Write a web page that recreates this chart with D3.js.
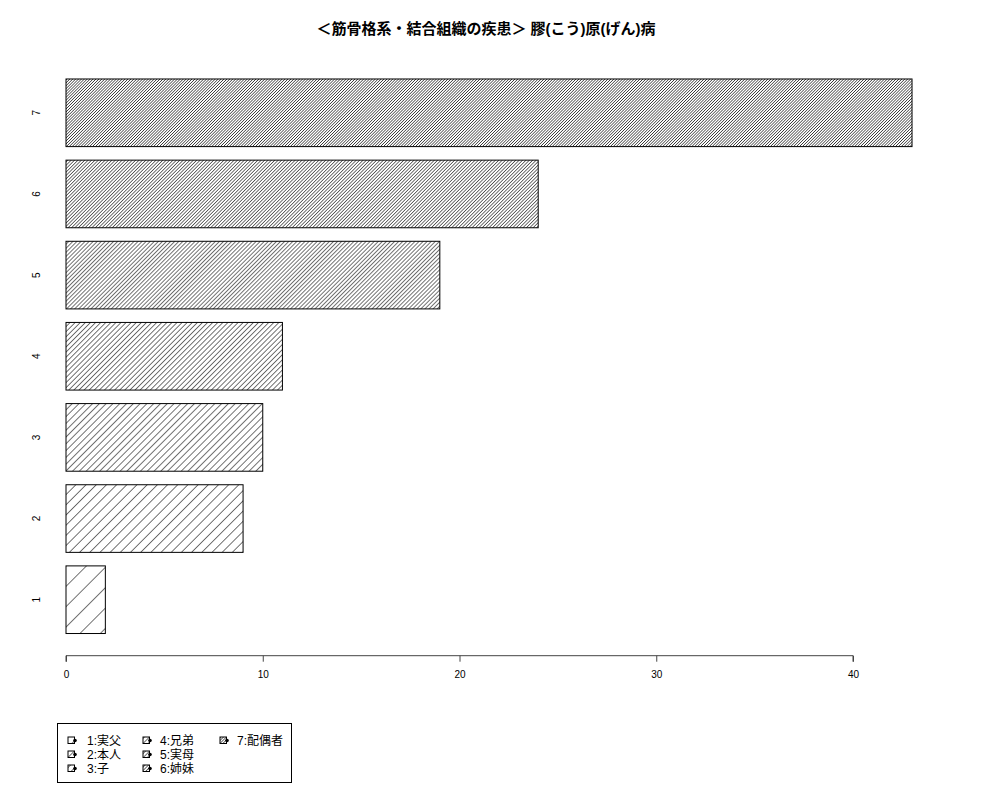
<!DOCTYPE html>
<html><head><meta charset="utf-8">
<script src="https://cdn.jsdelivr.net/npm/d3@7"></script>
<style>body{margin:0;background:#fff}svg{display:block}</style>
</head><body>
<script>
const categories = ["1","2","3","4","5","6","7"];
const values = [2, 9, 10, 11, 19, 24, 43];
const legendLabels = ["1:実父","2:本人","3:子","4:兄弟","5:実母","6:姉妹","7:配偶者"];
const xTicks = [0, 10, 20, 30, 40];
const title = "＜筋骨格系・結合組織の疾患＞ 膠(こう)原(げん)病";

const W = 1000, H = 800;
const font = "'Liberation Sans', Arial, 'Noto Sans CJK JP', sans-serif";
const svg = d3.select("body").append("svg").attr("width", W).attr("height", H)
  .style("font-family", font);
svg.append("rect").attr("width", W).attr("height", H).attr("fill", "#fff");

const x = d3.scaleLinear().domain([0, 40]).range([66, 853]);
const y = d3.scaleLinear().domain([-0.128, 8.728]).range([655.7, 56.8]);

const defs = svg.append("defs");
categories.forEach((c, i) => {
  const sp = 72 / (5 * (i + 1));
  const p = defs.append("pattern").attr("id", "h" + i)
    .attr("patternUnits", "userSpaceOnUse")
    .attr("width", sp).attr("height", 20)
    .attr("patternTransform", "rotate(45)");
  p.append("line").attr("x1", 0).attr("y1", -5).attr("x2", 0).attr("y2", 25)
    .attr("stroke", "#000").attr("stroke-width", 1.1);
});

const bars = svg.append("g");
categories.forEach((c, i) => {
  const b0 = 0.2 + i * 1.2, b1 = b0 + 1;
  const rx = x(0), rw = x(values[i]) - x(0), ry = y(b1), rh = y(b0) - y(b1);
  bars.append("rect").attr("x", rx).attr("y", ry).attr("width", rw).attr("height", rh)
    .attr("fill", "#fff");
  bars.append("rect").attr("x", rx).attr("y", ry).attr("width", rw).attr("height", rh)
    .attr("fill", `url(#h${i})`).attr("stroke", "#000").attr("stroke-width", 1);
  svg.append("text").attr("transform", `translate(40,${y((b0 + b1) / 2)}) rotate(-90)`)
    .attr("text-anchor", "middle").attr("font-size", 10).text(c);
});

const ax = svg.append("g").attr("transform", `translate(0,${y(-0.128)})`)
  .call(d3.axisBottom(x).tickValues(xTicks).tickSize(6).tickPadding(9).tickFormat(d3.format("d")));
ax.select(".domain").attr("d", `M${x(0)},6V0H${x(40)}V6`).attr("stroke", "#444");
ax.selectAll(".tick line").attr("stroke", "#444");
ax.selectAll("text").attr("font-size", 10).attr("font-family", font).attr("fill", "#000");

svg.append("text").attr("x", 486).attr("y", 34).attr("text-anchor", "middle")
  .attr("font-size", 15).attr("font-weight", "bold").text(title);

// legend
const lg = svg.append("g");
lg.append("rect").attr("x", 57.5).attr("y", 723.5).attr("width", 234).attr("height", 59)
  .attr("fill", "#fff").attr("stroke", "#000");
const colX = [68, 143, 220];
const textX = [87, 160, 237];
const rowY = [740, 754, 768];
legendLabels.forEach((l, i) => {
  const col = Math.floor(i / 3), row = i % 3;
  const bx = colX[col], by = rowY[row];
  lg.append("rect").attr("x", bx).attr("y", by - 3).attr("width", 6.5).attr("height", 6.5)
    .attr("fill", `url(#h${i})`).attr("stroke", "#000").attr("stroke-width", 1);
  lg.append("circle").attr("cx", bx + 7).attr("cy", by + 0.5).attr("r", 1.8).attr("fill", "#000");
  lg.append("text").attr("x", textX[col]).attr("y", by + 4.5).attr("font-size", 12).text(l);
});
</script>
</body></html>
